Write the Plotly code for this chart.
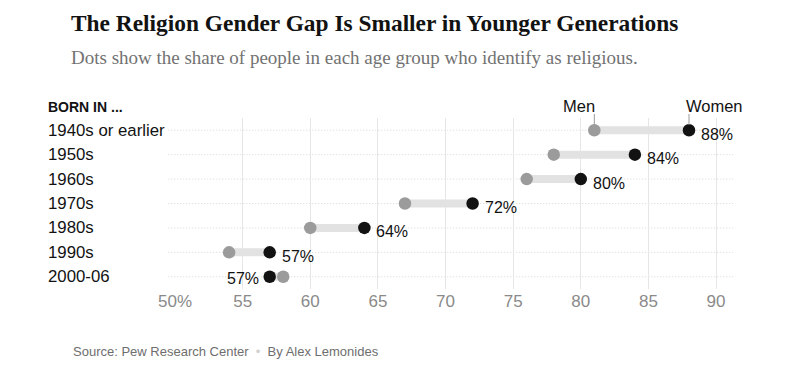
import plotly.graph_objects as go

categories = ["1940s or earlier", "1950s", "1960s", "1970s", "1980s", "1990s", "2000-06"]
men = [81, 78, 76, 67, 60, 54, 58]
women = [88, 84, 80, 72, 64, 57, 57]
x_ticks = [50, 55, 60, 65, 70, 75, 80, 85, 90]
x_tick_text = ["50%", "55", "60", "65", "70", "75", "80", "85", "90"]

# page has an 8px body margin; work in screen pixels and convert
OFF = 8
W, H = 800 - OFF, 374 - OFF
L, R, T, B = 175 - OFF, 65, 118 - OFF, 85
PW, PH = W - L - R, H - T - B


def px(xs):
    return (xs - OFF - L) / PW


def py(ys):
    return (H - B - (ys - OFF)) / PH


SANS = "Liberation Sans, Arial, sans-serif"
SERIF = "Liberation Serif, DejaVu Serif, serif"

fig = go.Figure()

# connectors
for c, m, w in zip(categories, men, women):
    fig.add_trace(go.Scatter(x=[m, w], y=[c, c], mode="lines",
                             line=dict(color="#e2e2e2", width=8),
                             hoverinfo="skip", showlegend=False))

fig.add_trace(go.Scatter(x=men, y=categories, mode="markers", name="Men",
                         marker=dict(color="#9b9b9b", size=12.5), showlegend=False))
fig.add_trace(go.Scatter(x=women, y=categories, mode="markers", name="Women",
                         marker=dict(color="#121212", size=12.5), showlegend=False))

annotations = []
# value labels
for i, (c, m, w) in enumerate(zip(categories, men, women)):
    if w >= m:
        annotations.append(dict(x=w, y=c, xref="x", yref="y", text=f"{w}%",
                                showarrow=False, xanchor="left", xshift=10, yshift=-4,
                                font=dict(family=SANS, size=16, color="#121212")))
    else:
        annotations.append(dict(x=w, y=c, xref="x", yref="y", text=f"{w}%",
                                showarrow=False, xanchor="right", xshift=-9, yshift=-2,
                                font=dict(family=SANS, size=16, color="#121212")))

# category labels
for c in categories:
    annotations.append(dict(x=px(46), y=c, xref="paper", yref="y", text=c,
                            showarrow=False, xanchor="left", yanchor="middle",
                            font=dict(family=SANS, size=16.8, color="#121212")))

# Men / Women legend labels
annotations.append(dict(x=men[0], y=py(106), xref="x", yref="paper", text="Men",
                        showarrow=False, xanchor="right", xshift=3, yanchor="middle",
                        font=dict(family=SANS, size=16.5, color="#121212")))
annotations.append(dict(x=women[0], y=py(106), xref="x", yref="paper", text="Women",
                        showarrow=False, xanchor="left", xshift=-5, yanchor="middle",
                        font=dict(family=SANS, size=16.5, color="#121212")))

annotations.append(dict(x=px(46), y=py(107), xref="paper", yref="paper", text="<b>BORN IN ...</b>",
                        showarrow=False, xanchor="left", yanchor="middle",
                        font=dict(family=SANS, size=14, color="#121212")))

# title & subtitle
annotations.append(dict(x=px(69), y=py(23), xref="paper", yref="paper",
                        text="<b>The Religion Gender Gap Is Smaller in Younger Generations</b>",
                        showarrow=False, xanchor="left", yanchor="middle",
                        font=dict(family=SERIF, size=23.4, color="#121212")))
annotations.append(dict(x=px(69), y=py(57), xref="paper", yref="paper",
                        text="Dots show the share of people in each age group who identify as religious.",
                        showarrow=False, xanchor="left", yanchor="middle",
                        font=dict(family=SERIF, size=19, color="#727272")))
annotations.append(dict(x=px(71), y=py(351), xref="paper", yref="paper",
                        text="Source: Pew Research Center  <span style='color:#d0d0d0'>•</span>  By Alex Lemonides",
                        showarrow=False, xanchor="left", yanchor="middle",
                        font=dict(family=SANS, size=13, color="#6e6e6e")))

shapes = []
# horizontal dotted row lines
for c in categories:
    shapes.append(dict(type="line", xref="paper", yref="y", x0=-0.012, x1=1, y0=c, y1=c,
                       line=dict(color="#d6d6d6", width=1, dash="1px,2px"), layer="below"))
# leader lines for legend labels
shapes.append(dict(type="line", xref="x", yref="paper", x0=men[0], x1=men[0],
                   y0=py(114), y1=py(125), line=dict(color="#9b9b9b", width=1)))
shapes.append(dict(type="line", xref="x", yref="paper", x0=women[0], x1=women[0],
                   y0=py(114), y1=py(125), line=dict(color="#9b9b9b", width=1)))

fig.update_layout(
    width=W, height=H,
    margin=dict(l=L, r=R, t=T, b=B),
    paper_bgcolor="white", plot_bgcolor="white",
    annotations=annotations, shapes=shapes,
    xaxis=dict(range=[50, 91.4], tickvals=x_ticks, ticktext=x_tick_text,
               showgrid=True, gridcolor="#e6e6e6", gridwidth=1, zeroline=False,
               showline=False, ticks="", ticklen=0,
               tickfont=dict(family=SANS, size=17, color="#8a8a8a")),
    yaxis=dict(type="category", categoryorder="array", categoryarray=categories,
               range=[6.5, -0.5], showticklabels=False, showgrid=False,
               zeroline=False, showline=False),
    hovermode=False,
)

fig.write_html("out.html")
